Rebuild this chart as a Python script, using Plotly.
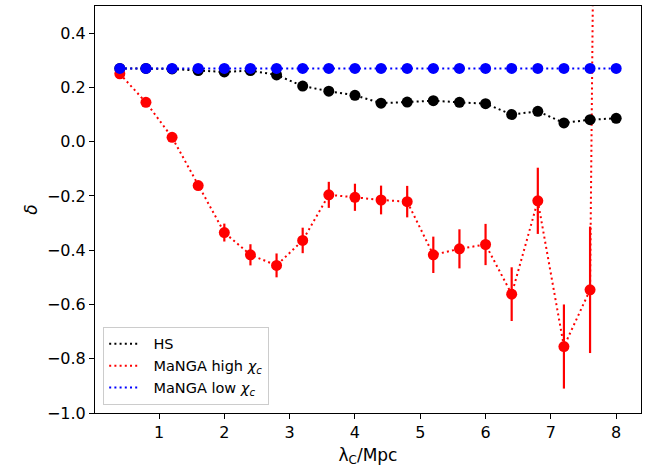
import plotly.graph_objects as go

lam = [0.4, 0.8, 1.2, 1.6, 2.0, 2.4, 2.8, 3.2, 3.6, 4.0, 4.4, 4.8, 5.2, 5.6, 6.0, 6.4, 6.8, 7.2, 7.6, 8.0]
hs = [0.27, 0.27, 0.268, 0.262, 0.257, 0.262, 0.246, 0.205, 0.186, 0.171, 0.142, 0.146,
      0.151, 0.145, 0.140, 0.100, 0.112, 0.069, 0.081, 0.086]
high = [0.25, 0.145, 0.016, -0.162, -0.335, -0.417, -0.456, -0.364, -0.196, -0.205, -0.215,
        -0.221, -0.417, -0.395, -0.379, -0.562, -0.218, -0.755, -0.546, 9.5]
high_err = [0.005, 0.008, 0.01, 0.015, 0.033, 0.039, 0.044, 0.047, 0.048, 0.050, 0.053,
            0.058, 0.067, 0.072, 0.076, 0.099, 0.122, 0.155, 0.233, 0.5]
low = [0.27, 0.27, 0.27, 0.27, 0.27, 0.27, 0.27, 0.27, 0.27, 0.27, 0.27, 0.27,
       0.27, 0.27, 0.27, 0.27, 0.27, 0.27, 0.27, 0.27]

names = ["HS", "MaNGA high <i>χ<sub>c</sub></i>", "MaNGA low <i>χ<sub>c</sub></i>"]
colors = ["black", "red", "blue"]

x_ticks = [1, 2, 3, 4, 5, 6, 7, 8]
y_ticks = [-1.0, -0.8, -0.6, -0.4, -0.2, 0.0, 0.2, 0.4]
y_ticktext = [("−" if v < 0 else "") + f"{abs(v):.1f}" for v in y_ticks]

FONT = "DejaVu Sans"
DASH = "2px,3.2px"
PAD = "\u00a0\u00a0"

fig = go.Figure()
series = [hs, high, low]
errs = [None, high_err, None]

for s, nm, c in zip(series, names, colors):
    fig.add_trace(go.Scatter(x=lam, y=s, mode="lines", name=PAD + nm,
                             line=dict(color=c, width=2, dash=DASH)))

for s, e, c in zip(series, errs, colors):
    kw = {}
    if e is not None:
        kw["error_y"] = dict(type="data", array=e, visible=True, color=c, thickness=2.2, width=0)
    fig.add_trace(go.Scatter(x=lam, y=s, mode="markers", showlegend=False,
                             marker=dict(color=c, size=11, line=dict(width=0)), **kw))

axis_common = dict(showline=True, linecolor="black", linewidth=1, mirror=True,
                   ticks="outside", ticklen=5, tickwidth=1, tickcolor="black",
                   showgrid=False, zeroline=False,
                   tickfont=dict(family=FONT, size=16, color="black"))

fig.update_xaxes(range=[0.02, 8.38], tickvals=x_ticks,
                 title=dict(text="λ<sub>C</sub>/Mpc", font=dict(family=FONT, size=17, color="black"), standoff=7),
                 **axis_common)
fig.update_yaxes(range=[-1.0, 0.5], tickvals=y_ticks, ticktext=y_ticktext,
                 title=dict(text="<i>δ</i>", font=dict(family=FONT, size=17, color="black"), standoff=4),
                 **axis_common)

fig.update_layout(
    width=651, height=470,
    margin=dict(l=95, r=10, t=6, b=57),
    paper_bgcolor="white", plot_bgcolor="white",
    showlegend=True,
    legend=dict(x=0.015, y=0.02, xanchor="left", yanchor="bottom",
                bgcolor="rgba(255,255,255,0.8)", bordercolor="#cccccc", borderwidth=1,
                font=dict(family=FONT, size=14.5, color="black"),
                itemwidth=30, tracegroupgap=0),
)

fig.write_html("out.html", config={"displayModeBar": False},
               post_script="document.body.style.margin='0';document.body.style.overflow='hidden';")
